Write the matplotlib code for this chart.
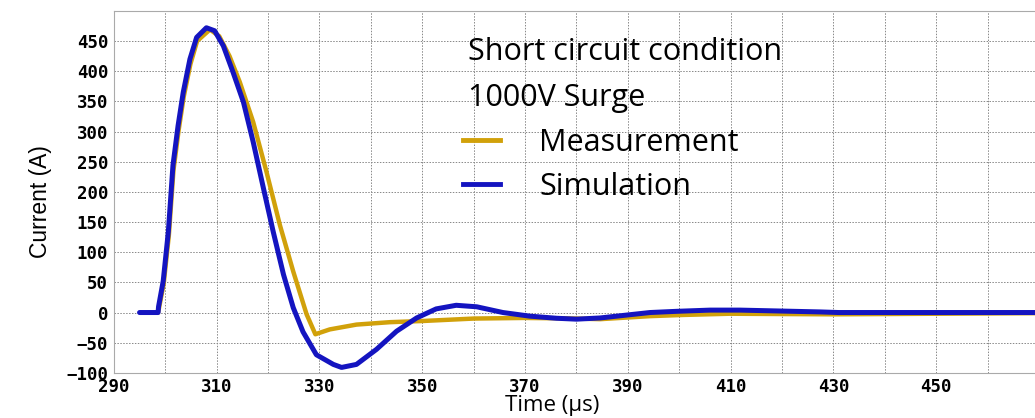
import matplotlib.pyplot as plt
from matplotlib.lines import Line2D

# simulated surge current (blue)
sim_t = [295, 298.6, 298.7, 299.6, 300.6, 301.5, 302.5, 303.5, 304.8, 306.1,
         308.0, 309.6, 311.3, 313.2, 315.2, 317.1, 319.1, 321.0, 323.0, 324.9,
         326.8, 329.4, 332.7, 334.3, 337.2, 341.1, 345.0, 348.9, 352.7, 356.6,
         360.6, 365.7, 370.9, 376.1, 380.0, 384.6, 394.3, 399.5, 406.0, 411.8,
         427.4, 431.0, 470.0]
sim_i = [0, 0, 10, 52, 134, 244, 310, 365, 420, 456,
         472, 467, 442, 398, 349, 283, 206, 134, 63, 8,
         -32, -70, -86, -91, -86, -61, -31, -9, 6, 12,
         9.5, 0, -6, -9.5, -11, -9, 0, 2, 4, 4,
         1, 0, 0]

# measured surge current (gold)
meas_t = [298.6, 298.8, 299.7, 300.7, 301.6, 302.6, 303.6, 304.9, 306.2, 308.7,
          310.5, 312.5, 314.5, 317.1, 319.7, 322.3, 324.9, 327.5, 329.2, 332.0,
          337.2, 343.7, 350.2, 360.0, 369.7, 376.0, 380.0, 384.6, 394.3, 400.8,
          409.8, 430.0, 470.0]
meas_i = [0, 8, 48, 128, 236, 302, 358, 412, 450, 469,
          458, 425, 382, 316, 233, 145, 68, -3, -36, -28,
          -20, -16, -14, -10, -9, -9.5, -10, -11, -6, -4,
          -2, -3, -1]

x_labels = list(range(290, 451, 20))
x_grid = list(range(300, 461, 20))
y_labels = list(range(-100, 451, 50))

gold = '#d1a10a'
blue = '#1414c0'

fig = plt.figure(figsize=(10.35, 4.18), dpi=100)
ax = fig.add_axes([0.110, 0.108, 0.890, 0.866])

ax.plot(meas_t, meas_i, color=gold, lw=3.2, solid_capstyle='round',
        solid_joinstyle='round', zorder=3)
ax.plot(sim_t, sim_i, color=blue, lw=3.6, solid_capstyle='round',
        solid_joinstyle='round', zorder=4)

ax.set_xlim(290, 469.2)
ax.set_ylim(-100, 500)
ax.set_xticks(x_labels)
ax.set_xticks(x_grid, minor=True)
ax.set_yticks(y_labels)
ax.grid(which='both', color='#888888', ls=(0, (1.5, 1.5)), lw=0.7)
ax.tick_params(which='both', length=0)
ax.tick_params(axis='y', pad=4)
ax.tick_params(axis='x', pad=4)
for lab in ax.get_xticklabels() + ax.get_yticklabels():
    lab.set_family('DejaVu Sans Mono')
    lab.set_weight('bold')
    lab.set_fontsize(12.5)

for s in ['left', 'bottom', 'top']:
    ax.spines[s].set_color('#aaaaaa')
ax.spines['right'].set_visible(False)

ax.set_ylabel('Current (A)', family='Liberation Sans', fontsize=16.5)
ax.yaxis.set_label_coords(-0.067, 0.472)
ax.set_xlabel('Time (µs)', family='Open Sans', fontsize=16, va='baseline')
ax.xaxis.set_label_coords(0.4756, -0.106)

fig.text(0.452, 0.876, 'Short circuit condition', family='Open Sans', fontsize=22, va='center')
fig.text(0.452, 0.766, '1000V Surge', family='Open Sans', fontsize=22, va='center')

handles = [Line2D([], [], color=gold, lw=3.5), Line2D([], [], color=blue, lw=3.5)]
leg = ax.legend(handles, ['Measurement', 'Simulation'], loc='upper left',
                bbox_to_anchor=(0.379, 0.677), frameon=False, borderpad=0,
                borderaxespad=0, handlelength=1.2, handletextpad=1.3,
                labelspacing=0.45, prop={'family': 'Open Sans', 'size': 22})

fig.savefig('out.png', dpi=100)
